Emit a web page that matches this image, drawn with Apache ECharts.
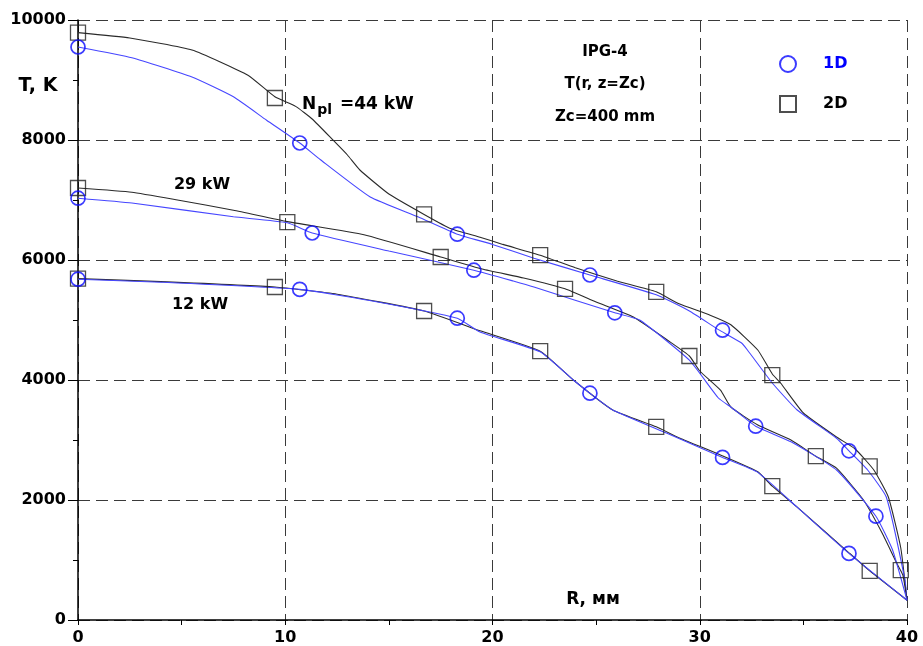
<!DOCTYPE html>
<html><head><meta charset="utf-8">
<script src="https://cdn.jsdelivr.net/npm/echarts@6/dist/echarts.min.js"></script>
<style>html,body{margin:0;padding:0;background:#fff}#c{width:923px;height:646px}</style>
</head><body><div id="c"></div>
<script>
// ---- data (R in mm, T in K) ----
const xTicks = [0, 10, 20, 30, 40];
const yTicks = [0, 2000, 4000, 6000, 8000, 10000];

// 44 kW
const curve44_2D = [[0,9790],[2.5,9700],[5.5,9500],[8.2,9080],[9.5,8720],[10.5,8560],[11.3,8350],[12.3,8000],[13.0,7750],[13.6,7500],[15.0,7100],[16.7,6760],[18,6520],[19.4,6380],[20.5,6260],[22.3,6080],[24,5870],[26,5650],[27.9,5470],[29,5270],[30.5,5080],[31.5,4920],[32.8,4500],[33.5,4100],[33.9,3950],[35,3450],[36.6,3050],[37.5,2850],[38.4,2500],[39.1,2050],[39.7,1200],[40,330]];
const curve44_1D = [[0,9550],[2.6,9370],[5.5,9050],[7.5,8720],[9.1,8330],[10.7,7950],[11.7,7670],[14.1,7050],[16.4,6720],[18.3,6430],[20,6260],[22,6030],[24.7,5750],[27.9,5420],[29.5,5150],[30.9,4840],[32,4620],[32.3,4500],[33.5,3950],[34.7,3500],[36.6,3030],[37.2,2820],[38.1,2500],[39.0,2050],[39.9,670],[40,330]];
const marks44_2D = [[0,9790],[9.5,8700],[16.7,6760],[22.3,6080],[27.9,5470],[33.5,4080],[38.2,2560]];
const marks44_1D = [[0,9550],[10.7,7950],[18.3,6430],[24.7,5750],[31.1,4830],[37.2,2820]];

// 29 kW
const curve29_2D = [[0,7200],[2.6,7130],[4.8,7000],[7.5,6830],[10.1,6640],[13.8,6420],[17.5,6050],[19.5,5850],[21.5,5700],[23.5,5520],[25,5300],[26.8,5050],[28.5,4650],[29.5,4400],[30.0,4150],[31,3830],[31.5,3550],[32.8,3250],[34.4,3000],[35.6,2730],[36.6,2530],[37.9,2000],[38.8,1450],[39.5,950],[39.8,750],[40,330]];
const curve29_1D = [[0,7030],[2.6,6950],[7.5,6720],[10.1,6620],[11.3,6450],[15,6150],[19.1,5830],[21,5650],[22,5550],[25.9,5120],[27.1,5000],[29.5,4330],[30.9,3700],[31.5,3550],[32.7,3230],[34.4,2970],[36.6,2500],[38.5,1730],[39.3,1170],[40,330]];
const marks29_2D = [[0,7200],[10.1,6630],[17.5,6050],[23.5,5520],[29.5,4400],[35.6,2730],[39.7,830]];
const marks29_1D = [[0,7030],[11.3,6450],[19.1,5830],[25.9,5120],[32.7,3230],[38.5,1730]];

// 12 kW
const curve12_2D = [[0,5690],[4,5640],[9.5,5550],[12.5,5430],[16.7,5150],[19.4,4820],[22.3,4480],[23.9,4000],[25.8,3500],[27.9,3220],[29.05,3030],[31,2750],[32.8,2470],[33.5,2230],[34.7,1880],[37.2,1120],[38.2,820],[40,330]];
const curve12_1D = [[0,5680],[4,5630],[10.7,5510],[14,5330],[18.3,5030],[19.4,4800],[22.3,4470],[23.9,4000],[24.7,3780],[25.8,3500],[28.5,3100],[31.1,2710],[32.8,2460],[34.7,1880],[37.2,1110],[40,330]];
const marks12_2D = [[0,5690],[9.5,5550],[16.7,5150],[22.3,4480],[27.9,3220],[33.5,2230],[38.2,820]];
const marks12_1D = [[0,5680],[10.7,5510],[18.3,5030],[24.7,3780],[31.1,2710],[37.2,1110]];

const FONT = 'DejaVu Sans';
const BLUE_LINE = '#4646ff', BLUE_MARK = '#0a0aff';
const BLACK_LINE = '#2a2a2a', BLACK_MARK = '#222';

function lineS(name, data, color, w){
  return {name:name, type:'line', data:data, showSymbol:false, symbol:'none', smooth:0.15,
    lineStyle:{color:color, width:w}, silent:true, z:2};
}
function markS(name, data, kind){
  const isC = kind==='1D';
  return {name:name, type:'scatter', data:data, symbol: isC?'circle':'rect', symbolSize: isC?14:15,
    itemStyle:{color:'rgba(255,255,255,0)', borderColor: isC?BLUE_MARK:BLACK_MARK, borderWidth: isC?1.7:1.3}, z:3};
}

const chart = echarts.init(document.getElementById('c'), null, {renderer:'canvas'});
chart.setOption({
  animation:false,
  backgroundColor:'#fff',
  grid:{left:78, top:20, width:829, height:600},
  xAxis:{type:'value', min:xTicks[0], max:xTicks[xTicks.length-1], interval:10,
    axisLine:{show:true, onZero:false, lineStyle:{color:'#000', width:1.5}},
    axisTick:{show:true, length:5, lineStyle:{color:'#000'}},
    minorTick:{show:true, splitNumber:2, length:5, lineStyle:{color:'#000'}},
    splitLine:{show:true, lineStyle:{color:'#3a3a3a', type:[12,6], width:1}},
    axisLabel:{color:'#000', fontFamily:FONT, fontWeight:'bold', fontSize:16, margin:10, formatter:v=>String(v)}},
  yAxis:{type:'value', min:yTicks[0], max:yTicks[yTicks.length-1], interval:2000,
    axisLine:{show:true, onZero:false, lineStyle:{color:'#000', width:1.5}},
    axisTick:{show:true, length:10, lineStyle:{color:'#000'}},
    minorTick:{show:true, splitNumber:2, length:5, lineStyle:{color:'#000'}},
    splitLine:{show:true, lineStyle:{color:'#3a3a3a', type:[12,6], width:1}},
    axisLabel:{color:'#000', fontFamily:FONT, fontWeight:'bold', fontSize:16, margin:12, formatter:v=>String(v)}},
  legend:{show:true, orient:'vertical', left:774, top:50, itemWidth:16, itemHeight:16, itemGap:22,
    data:[{name:'1D', icon:'circle', textStyle:{color:'#0000ff'}},{name:'2D', icon:'rect', textStyle:{color:'#000'}}],
    textStyle:{fontFamily:FONT, fontWeight:'bold', fontSize:16, padding:[0,0,0,22]}},
  series:[
    lineS('44 kW 2D', curve44_2D, BLACK_LINE, 1.1),
    lineS('44 kW 1D', curve44_1D, BLUE_LINE, 1.1),
    lineS('29 kW 2D', curve29_2D, BLACK_LINE, 1.1),
    lineS('29 kW 1D', curve29_1D, BLUE_LINE, 1.1),
    lineS('12 kW 2D', curve12_2D, BLACK_LINE, 1.1),
    lineS('12 kW 1D', curve12_1D, BLUE_LINE, 1.1),
    markS('2D', marks44_2D, '2D'), markS('1D', marks44_1D, '1D'),
    markS('2D', marks29_2D, '2D'), markS('1D', marks29_1D, '1D'),
    markS('2D', marks12_2D, '2D'), markS('1D', marks12_1D, '1D')
  ],
  graphic:[
    {type:'text', x:38, y:86, style:{text:'T, K', font:'bold 19px "DejaVu Sans"', fill:'#000', align:'center', verticalAlign:'middle'}},
    {type:'text', x:593, y:600, style:{text:'R, мм', font:'bold 17px "DejaVu Sans"', fill:'#000', align:'center', verticalAlign:'middle'}},
    {type:'text', x:605, y:52, style:{text:'IPG-4', font:'bold 15px "DejaVu Sans"', fill:'#000', align:'center', verticalAlign:'middle'}},
    {type:'text', x:605, y:84, style:{text:'T(r, z=Zc)', font:'bold 15px "DejaVu Sans"', fill:'#000', align:'center', verticalAlign:'middle'}},
    {type:'text', x:605, y:117, style:{text:'Zc=400 mm', font:'bold 15px "DejaVu Sans"', fill:'#000', align:'center', verticalAlign:'middle'}},
    {type:'text', x:202, y:185, style:{text:'29 kW', font:'bold 16px "DejaVu Sans"', fill:'#000', align:'center', verticalAlign:'middle'}},
    {type:'text', x:200, y:305, style:{text:'12 kW', font:'bold 16px "DejaVu Sans"', fill:'#000', align:'center', verticalAlign:'middle'}},
    {type:'text', x:302, y:96, style:{text:'{a|N}{b|pl}{a| =44 kW}', fill:'#000',
      rich:{a:{font:'bold 17px "DejaVu Sans"', fill:'#000', verticalAlign:'top', lineHeight:20},
            b:{font:'bold 14px "DejaVu Sans"', fill:'#000', padding:[8,2,0,1], lineHeight:20}}}}
  ]
});
</script></body></html>
